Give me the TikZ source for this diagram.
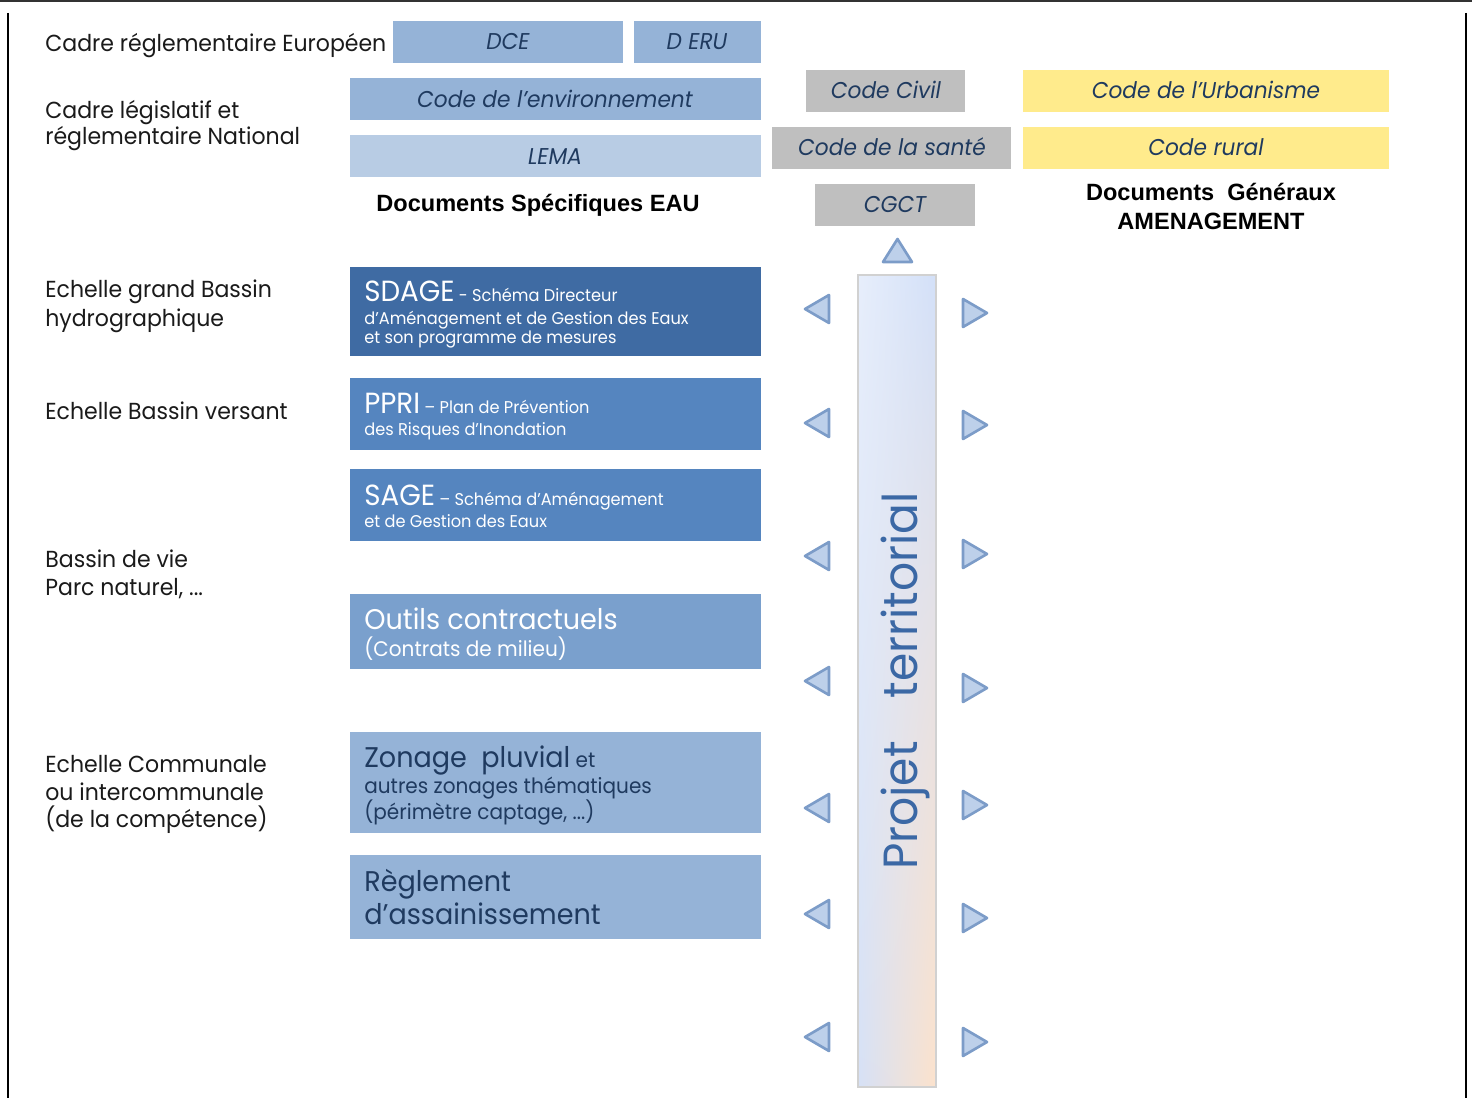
\documentclass[tikz,border=0pt]{standalone}
\usepackage{fontspec}
\setmainfont{Poppins}[FakeStretch=0.95]
\newfontfamily\titlefont{Liberation Sans}
\usetikzlibrary{fit,shadings}
\definecolor{labelc}{HTML}{1A1A1A}
\definecolor{navy}{HTML}{1F3A5F}
\definecolor{bmid}{HTML}{95B3D7}
\definecolor{blight}{HTML}{B8CCE4}
\definecolor{bdark}{HTML}{3F6BA3}
\definecolor{bsec}{HTML}{5585BF}
\definecolor{bout}{HTML}{7AA0CD}
\definecolor{gbox}{HTML}{BFBFBF}
\definecolor{ybox}{HTML}{FFEB8C}
\definecolor{bartext}{HTML}{3B68A5}
\definecolor{trifill}{HTML}{BDD0EA}
\definecolor{triline}{HTML}{7C9CC8}
\definecolor{barUL}{HTML}{E7EEFB}
\definecolor{barUR}{HTML}{D3E0F8}
\definecolor{barLL}{HTML}{D6E1F6}
\definecolor{barLR}{HTML}{FCE2CC}
\begin{document}
\begin{tikzpicture}[x=0.02cm,y=-0.02cm,
  lbl/.style={anchor=base west,inner sep=0,text=labelc,font=\fontsize{13.2}{16}\selectfont},
  box/.style={inner sep=0,draw=none},
  itx/.style={anchor=base,inner sep=0,text=navy,font=\fontsize{13}{16}\selectfont\itshape},
  ttl/.style={anchor=base,inner sep=0,text=black,font=\titlefont\bfseries\fontsize{13.4}{16}\selectfont},
  wtx/.style={anchor=base west,inner sep=0,text=white,font=\fontsize{9.7}{12}\selectfont},
  dtx/.style={anchor=base west,inner sep=0,text=navy,font=\fontsize{12}{14}\selectfont},
  tri/.style={fill=trifill,draw=triline,line width=1.5pt,line join=round}]
\useasboundingbox (0,0) rectangle (1472,1098);
% frame lines
\draw[line width=1.1pt,color=black!80] (0,0.8) -- (1472,0.8);
\draw[line width=1.6pt] (8,13) -- (8,1098);
\draw[line width=1.6pt] (1466,13) -- (1466,1098);
% left labels
\node[lbl] (l1) at (45,52) {Cadre réglementaire Européen};
\node[lbl] (l2a) at (45,119) {Cadre législatif et};
\node[lbl] (l2b) at (45,145) {réglementaire National};
\node[lbl] (l3a) at (45,298) {Echelle grand Bassin};
\node[lbl] (l3b) at (45,327) {hydrographique};
\node[lbl] (l4) at (45,419) {Echelle Bassin versant};
\node[lbl] (l5a) at (45,567) {Bassin de vie};
\node[lbl] (l5b) at (45,595) {Parc naturel, ...};
\node[lbl] (l6a) at (45,772) {Echelle Communale};
\node[lbl] (l6b) at (45,800) {ou intercommunale};
\node[lbl] (l6c) at (45,827) {(de la compétence)};
% top water boxes
\node[box,fill=bmid,fit={(393,21) (623,63)}] (dce) {};
\node[box,fill=bmid,fit={(634,21) (761,63)}] (deru) {};
\node[box,fill=bmid,fit={(350,78) (761,120)}] (cenv) {};
\node[box,fill=blight,fit={(350,135) (761,177)}] (lema) {};
\node[itx] (tdce) at (508,50) {DCE};
\node[itx] (tderu) at (697,50) {D ERU};
\node[itx] (tcenv) at (555,108) {Code de l’environnement};
\node[itx] (tlema) at (555,165) {LEMA};
\node[ttl] (tspec) at (538,212) {Documents Spécifiques EAU};
% grey boxes
\node[box,fill=gbox,fit={(806,70) (965,112)}] (civ) {};
\node[box,fill=gbox,fit={(772,127) (1011,169)}] (sante) {};
\node[box,fill=gbox,fit={(815,184) (975,226)}] (cgct) {};
\node[itx] (tciv) at (886,99) {Code Civil};
\node[itx] (tsante) at (892,156) {Code de la santé};
\node[itx] (tcgct) at (895,213) {CGCT};
% yellow boxes
\node[box,fill=ybox,fit={(1023,70) (1389,112)}] (urb) {};
\node[box,fill=ybox,fit={(1023,127) (1389,169)}] (rur) {};
\node[itx] (turb) at (1206,99) {Code de l’Urbanisme};
\node[itx] (trur) at (1206,156) {Code rural};
\node[ttl] (tgen1) at (1211,201) {Documents\ \ Généraux};
\node[ttl] (tgen2) at (1211,230) {AMENAGEMENT};
% water planning boxes
\node[box,fill=bdark,fit={(350,267) (761,356)}] (sdage) {};
\node[wtx] (sd1) at (364,302) {{\fontsize{16.6}{19}\selectfont SDAGE} - Schéma Directeur};
\node[wtx] (sd2) at (364,325) {d’Aménagement et de Gestion des Eaux};
\node[wtx] (sd3) at (364,344) {et son programme de mesures};
\node[box,fill=bsec,fit={(350,378) (761,450)}] (ppri) {};
\node[wtx] (pp1) at (364,414) {{\fontsize{16.6}{19}\selectfont PPRI} – Plan de Prévention};
\node[wtx] (pp2) at (364,436) {des Risques d’Inondation};
\node[box,fill=bsec,fit={(350,469) (761,541)}] (sage) {};
\node[wtx] (sa1) at (364,505) {{\fontsize{16.6}{19}\selectfont SAGE} – Schéma d’Aménagement};
\node[wtx] (sa2) at (364,527) {et de Gestion des Eaux};
\node[box,fill=bout,fit={(350,594) (761,669)}] (outils) {};
\node[wtx,font=\fontsize{16.2}{19}\selectfont] (ou1) at (364,629) {Outils contractuels};
\node[wtx,font=\fontsize{12}{14}\selectfont] (ou2) at (364,656) {(Contrats de milieu)};
\node[box,fill=bmid,fit={(350,732) (761,833)}] (zon) {};
\node[dtx] (zo1) at (364,767) {{\fontsize{16.2}{19}\selectfont Zonage\ \ pluvial} et};
\node[dtx] (zo2) at (364,793) {autres zonages thématiques};
\node[dtx] (zo3) at (364,819) {(périmètre captage, ...)};
\node[box,fill=bmid,fit={(350,855) (761,939)}] (regl) {};
\node[dtx,font=\fontsize{16.2}{19}\selectfont] (re1) at (364,891) {Règlement};
\node[dtx,font=\fontsize{16.2}{19}\selectfont] (re2) at (364,924) {d’assainissement};
% territorial project bar
\node[inner sep=0,draw=black!18,line width=0.8pt,fit={(858,275) (936,1087)},
  upper left=barUL,upper right=barUR,lower left=barLL,lower right=barLR] (bar) {};
\node[anchor=base,inner sep=0,rotate=90,text=bartext,font=\fontsize{27.3}{32}\selectfont] (tbar) at (917,681) {Projet\hspace{0.9em}territorial};
% arrows
\draw[tri] (883,262) -- (912,262) -- (897.5,239) -- cycle;
\foreach \y in {309,423,556,681,808,914,1037}
  \draw[tri] (829,\y-14) -- (829,\y+14) -- (805,\y) -- cycle;
\foreach \y in {313,425,554,688,805,918,1042}
  \draw[tri] (963,\y-14) -- (963,\y+14) -- (987,\y) -- cycle;
\end{tikzpicture}
\end{document}
